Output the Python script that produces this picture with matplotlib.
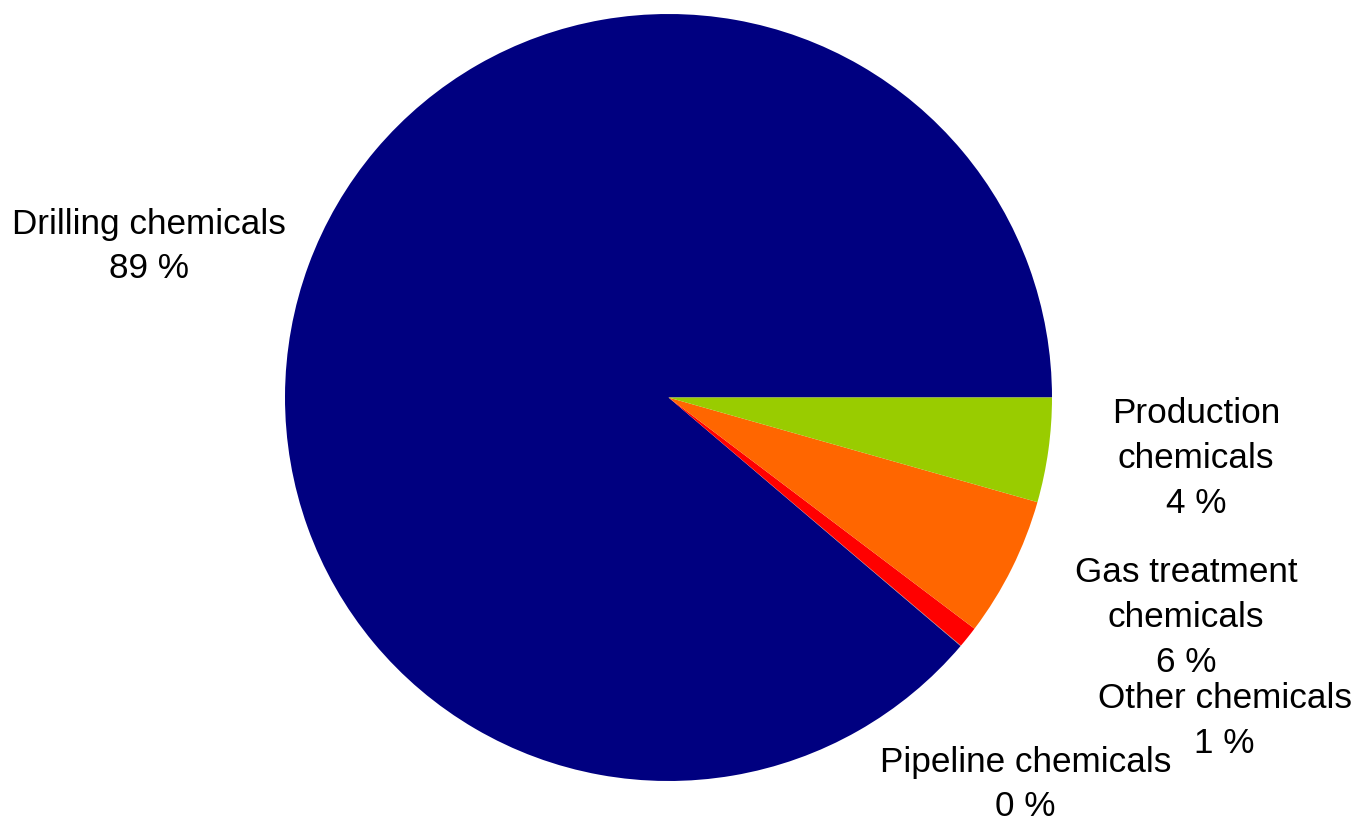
import matplotlib
matplotlib.use("Agg")
import matplotlib.pyplot as plt

# Dati
categories = ["Drilling chemicals", "Pipeline chemicals", "Other chemicals",
              "Gas treatment\nchemicals", "Production\nchemicals"]
values = [88.8, 0.02, 0.9, 5.9, 4.4]
colors = ["#000080", "#7F7F7F", "#FF0000", "#FF6600", "#99CC00"]

# Posizioni etichette (in unità di raggio, rispetto al centro)
label_pos = [(-1.354, 0.394), (0.931, -1.009), (1.450, -0.843),
             (1.349, -0.574), (1.375, -0.159)]

W, H, dpi = 1359, 823, 100
cx, cy, r = 668.5, 397.5, 383.5

plt.rcParams["font.family"] = ["Liberation Sans", "DejaVu Sans"]
fig = plt.figure(figsize=(W / dpi, H / dpi), dpi=dpi)
ax = fig.add_axes([0, 0, 1, 1])

ax.pie(values, colors=colors, startangle=0, counterclock=True, radius=1,
       wedgeprops={"linewidth": 0})

total = sum(values)
for cat, v, (lx, ly) in zip(categories, values, label_pos):
    ax.text(lx, ly, f"{cat}\n{round(v / total * 100):.0f} %",
            ha="center", va="center", multialignment="center",
            fontsize=25.3, linespacing=1.45, color="black")

ax.set_xlim(-cx / r, (W - cx) / r)
ax.set_ylim(-(H - cy) / r, cy / r)
ax.set_aspect("equal")
ax.axis("off")

fig.savefig("out.png", dpi=dpi)
